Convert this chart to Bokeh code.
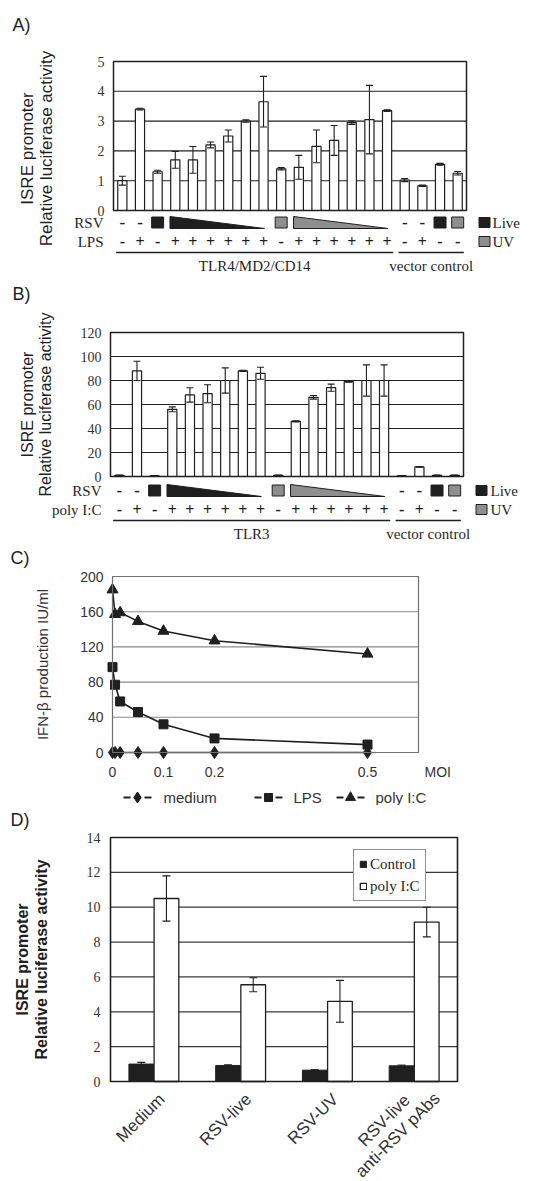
import math
from bokeh.plotting import figure
from bokeh.layouts import column
from bokeh.models import (ColumnDataSource, Whisker, TeeHead, Legend, LegendItem, Range1d)
from bokeh.core.properties import value
from bokeh.embed import file_html
from bokeh.resources import INLINE

# ---------------- data ----------------
# Panel A: ISRE promoter, TLR4/MD2/CD14 cells and vector control
a_values = [1.0, 3.4, 1.3, 1.7, 1.7, 2.2, 2.5, 3.0, 3.65, 1.4,
            1.45, 2.15, 2.35, 2.95, 3.05, 3.35, 1.02, 0.83, 1.55, 1.25]
a_errors = [0.15, 0.03, 0.05, 0.28, 0.45, 0.1, 0.2, 0.04, 0.85, 0.04,
            0.4, 0.55, 0.5, 0.06, 1.15, 0.03, 0.05, 0.02, 0.03, 0.06]
a_rsv = ["-", "-", "L", "l", "l", "l", "l", "l", "l", "U",
         "u", "u", "u", "u", "u", "u", "-", "-", "L", "U"]
a_lps = ["-", "+", "-", "+", "+", "+", "+", "+", "+", "-",
         "+", "+", "+", "+", "+", "+", "-", "+", "-", "-"]
a_groups = ["TLR4/MD2/CD14"] * 16 + ["vector control"] * 4
a_ticks = [0, 1, 2, 3, 4, 5]

# Panel B: ISRE promoter, TLR3 cells and vector control
b_values = [1.0, 88, 0.6, 56, 68, 69, 80, 88, 86, 1.0,
            46, 66, 74, 79, 80, 80, 0.6, 8, 1.0, 1.0]
b_errors = [0.3, 8, 0.2, 2, 6, 7.5, 10.5, 0.5, 5, 0.3,
            0.5, 1.5, 3, 0.5, 13, 13, 0.2, 0.3, 0.3, 0.3]
b_rsv = ["-", "-", "L", "l", "l", "l", "l", "l", "l", "U",
         "u", "u", "u", "u", "u", "u", "-", "-", "L", "U"]
b_polyic = ["-", "+", "-", "+", "+", "+", "+", "+", "+", "-",
            "+", "+", "+", "+", "+", "+", "-", "+", "-", "-"]
b_groups = ["TLR3"] * 16 + ["vector control"] * 4
b_ticks = [0, 20, 40, 60, 80, 100, 120]

# Panel C: IFN-beta production vs MOI
c_moi = [0, 0.005, 0.015, 0.05, 0.1, 0.2, 0.5]
c_medium = [0, 0, 0, 0, 0, 0, 0]
c_lps = [97, 77, 58, 46, 32, 16, 9]
c_polyic = [185, 157, 159, 149, 138, 127, 112]
c_xticks = [0, 0.1, 0.2, 0.5]
c_xlabels = ["0", "0.1", "0.2", "0.5"]
c_yticks = [0, 40, 80, 120, 160, 200]

# Panel D: ISRE promoter activity
d_categories = ["Medium", "RSV-live", "RSV-UV", "RSV-live\nanti-RSV pAbs"]
d_control = [1.0, 0.92, 0.65, 0.9]
d_control_err = [0.1, 0.04, 0.03, 0.04]
d_polyic = [10.5, 5.55, 4.6, 9.15]
d_polyic_err = [1.3, 0.4, 1.2, 0.85]
d_ticks = [0, 2, 4, 6, 8, 10, 12, 14]

# ---------------- helpers ----------------
SERIF = "Liberation Serif"
SANS = "Liberation Sans"
INK = "#1f1f1f"
DARK = "#333333"
GRAYFILL = "#8e8e8e"
PW = 551


def panel(fig_top, fig_h, box, xdom, ydom):
    """Figure whose frame is the whole canvas; box = plot rectangle in page px."""
    L, T, Wd, Ht = box
    x0, x1 = xdom
    y0, y1 = ydom

    def fx(px):
        return x0 + (px - L) / Wd * (x1 - x0)

    def fy(py):
        return y0 + (T + Ht - py) / Ht * (y1 - y0)

    p = figure(width=PW, height=fig_h,
               x_range=Range1d(fx(0), fx(PW)),
               y_range=Range1d(fy(fig_top + fig_h), fy(fig_top)),
               x_axis_location=None, y_axis_location=None, min_border=0,
               output_backend="svg", toolbar_location=None, title=None)
    p.outline_line_color = None
    p.grid.visible = False
    p.border_fill_color = "white"
    p.background_fill_color = "white"
    return p, fx, fy


def txt(p, xs, ys, texts, font=SANS, size=15, align="left", baseline="middle",
        angle=0.0, style="normal", color=INK):
    p.text(x=list(xs), y=list(ys), text=list(texts), text_font=value(font),
           text_font_size=f"{size}px", text_align=align, text_baseline=baseline,
           angle=angle, text_font_style=style, text_color=color)


def gridlines(p, xlo, xhi, ticks, grid_color, grid_width=1.1):
    p.segment(x0=[xlo] * len(ticks), x1=[xhi] * len(ticks), y0=ticks, y1=ticks,
              line_color=grid_color, line_width=grid_width)


def outline(p, xlo, xhi, ticks, color, width):
    p.quad(left=[xlo], right=[xhi], bottom=[ticks[0]], top=[ticks[-1]],
           fill_color=None, line_color=color, line_width=width)


def runs(seq):
    out = []
    start = 0
    for i in range(1, len(seq) + 1):
        if i == len(seq) or seq[i] != seq[start]:
            out.append((seq[start], start + 1, i))
            start = i
    return out


def bar_panel(fig_top, fig_h, box, values, errors, ticks, rsv, stim, stim_name, groups,
              letter, ylab_px, rows_px, label_right_px, legend_px):
    n = len(values)
    p, fx, fy = panel(fig_top, fig_h, box, (0.5, n + 0.5), (ticks[0], ticks[-1]))
    L = box[0]
    gridlines(p, 0.5, n + 0.5, ticks, INK)
    xs = list(range(1, n + 1))
    src = ColumnDataSource(dict(x=xs, top=values,
                                up=[v + e for v, e in zip(values, errors)],
                                lo=[max(v - e, 0) for v, e in zip(values, errors)]))
    p.vbar(x="x", top="top", bottom=ticks[0], width=0.52, fill_color="white",
           line_color=INK, line_width=1.2, source=src)
    p.add_layout(Whisker(source=src, base="x", upper="up", lower="lo", line_color=INK,
                         line_width=1.1, level="annotation",
                         upper_head=TeeHead(size=7, line_color=INK, line_width=1.1),
                         lower_head=TeeHead(size=7, line_color=INK, line_width=1.1)))
    outline(p, 0.5, n + 0.5, ticks, INK, 1.5)
    txt(p, [fx(L - 9)] * len(ticks), ticks, [str(t) for t in ticks], font=SERIF,
        size=14, align="right", color=DARK)

    y_rsv, y_stim, y_line, y_grp = rows_px
    txt(p, [fx(label_right_px)] * 2, [fy(y_rsv), fy(y_stim)], ["RSV", stim_name],
        font=SERIF, size=15, align="right")
    top_y, bot_y = fy(y_rsv - 6), fy(y_rsv + 6)
    for code, a, b in runs(rsv):
        if code == "-":
            idx = list(range(a, b + 1))
            txt(p, idx, [fy(y_rsv)] * len(idx), ["-"] * len(idx), font=SERIF, size=17,
                align="center", style="bold")
        elif code in ("L", "U"):
            for i in range(a, b + 1):
                p.rect(x=i, y=fy(y_rsv), width=12, height=11, width_units="screen",
                       height_units="screen", fill_color=INK if code == "L" else GRAYFILL,
                       line_color=INK, line_width=1)
        else:
            p.patch(x=[a - 0.3, a - 0.3, b + 0.05], y=[bot_y, top_y, bot_y],
                    fill_color=INK if code == "l" else GRAYFILL, line_color=INK,
                    line_width=1)
    txt(p, xs, [fy(y_stim)] * n, stim, font=SERIF, size=16, align="center", style="bold")
    for name, a, b in runs(groups):
        p.segment(x0=[a - 0.35], x1=[b + 0.35], y0=[fy(y_line)], y1=[fy(y_line)],
                  line_color=INK, line_width=1.6)
        txt(p, [(a + b) / 2], [fy(y_grp)], [name], font=SERIF, size=15, align="center")
    sq_px, txt_px = legend_px
    for yy, col, word in ((y_rsv, INK, "Live"), (y_stim, GRAYFILL, "UV")):
        p.rect(x=fx(sq_px), y=fy(yy), width=11, height=10, width_units="screen",
               height_units="screen", fill_color=col, line_color=INK)
        txt(p, [fx(txt_px)], [fy(yy)], [word], font=SERIF, size=15)
    lx1, lx2, ly, lsize = ylab_px
    txt(p, [fx(lx1), fx(lx2)], [fy(ly)] * 2,
        ["ISRE promoter", "Relative luciferase activity"], size=lsize, align="center",
        angle=math.pi / 2)
    txt(p, [fx(12)], [fy(letter[1])], [letter[0]], size=18)
    return p


# ---------------- panel A ----------------
pA = bar_panel(0, 283, (113, 61, 353, 149), a_values, a_errors, a_ticks, a_rsv, a_lps,
               "LPS", a_groups, ("A)", 24), (27, 46, 148, 17), (222, 241, 252, 265), 103,
               (484, 492))

# ---------------- panel B ----------------
pB = bar_panel(283, 265, (110, 332, 353, 144), b_values, b_errors, b_ticks, b_rsv,
               b_polyic, "poly I:C", b_groups, ("B)", 293), (27, 45, 404, 16),
               (490, 509, 520, 533), 101, (481, 490))

# ---------------- panel C ----------------
CL = 112
pC, cfx, cfy = panel(548, 257, (CL, 576, 306, 176), (0, 0.6), (0, 200))
gridlines(pC, 0, 0.6, c_yticks, "#8a8a8a")
c_series = [(c_medium, "diamond", 12, "medium"),
            (c_lps, "square", 9, "LPS"),
            (c_polyic, "triangle", 11, "poly I:C")]
for ys, mk, sz, name in c_series:
    pC.line(c_moi, ys, line_color=INK, line_width=1.6)
    pC.scatter(c_moi, ys, marker=mk, size=sz, fill_color=INK, line_color=INK)
outline(pC, 0, 0.6, c_yticks, "#707070", 1.2)
txt(pC, [cfx(CL - 9)] * len(c_yticks), c_yticks, [str(t) for t in c_yticks], size=14,
    align="right", color=DARK)
txt(pC, c_xticks, [cfy(771)] * len(c_xticks), c_xlabels, size=14, align="center",
    color=DARK)
txt(pC, [cfx(424)], [cfy(771)], ["MOI"], size=14, color=DARK)
txt(pC, [cfx(42)], [cfy(664)], ["IFN-\u03b2 production IU/ml"], size=15, align="center",
    angle=math.pi / 2, color=DARK)
txt(pC, [cfx(10)], [cfy(557)], ["C)"], size=18)
leg_pos = [(137, 163), (268, 293), (350, 375)]
for (ys, mk, sz, name), (cx, tx) in zip(c_series, leg_pos):
    yy = cfy(797)
    pC.segment(x0=[cfx(cx - 14), cfx(cx + 7)], x1=[cfx(cx - 7), cfx(cx + 14)],
               y0=[yy, yy], y1=[yy, yy], line_color=INK, line_width=2)
    pC.scatter([cfx(cx)], [yy], marker=mk, size=sz - 1, fill_color=INK, line_color=INK)
    txt(pC, [cfx(tx)], [yy], [name], size=15, color=DARK)

# ---------------- panel D ----------------
nd = len(d_categories)
DL, DT, DW, DH = 110, 837, 347, 244
pD, dfx, dfy = panel(805, 376, (DL, DT, DW, DH), (0, nd), (d_ticks[0], d_ticks[-1]))
gridlines(pD, 0, nd, d_ticks, "#3a3a3a", grid_width=1.2)
d_x = [i + 0.5 for i in range(nd)]
dsrc = ColumnDataSource(dict(
    xc=[x - 0.145 for x in d_x], xp=[x + 0.145 for x in d_x],
    ctrl=d_control, pic=d_polyic,
    ctrl_up=[v + e for v, e in zip(d_control, d_control_err)],
    ctrl_lo=[v - e for v, e in zip(d_control, d_control_err)],
    pic_up=[v + e for v, e in zip(d_polyic, d_polyic_err)],
    pic_lo=[v - e for v, e in zip(d_polyic, d_polyic_err)]))
r_ctrl = pD.vbar(x="xc", top="ctrl", bottom=0, width=0.285, fill_color=INK,
                 line_color=INK, source=dsrc)
r_pic = pD.vbar(x="xp", top="pic", bottom=0, width=0.285, fill_color="white",
                line_color=INK, line_width=1.3, source=dsrc)
for base, up, lo in (("xc", "ctrl_up", "ctrl_lo"), ("xp", "pic_up", "pic_lo")):
    pD.add_layout(Whisker(source=dsrc, base=base, upper=up, lower=lo, line_color=INK,
                          line_width=1.1, level="annotation",
                          upper_head=TeeHead(size=8, line_color=INK, line_width=1.1),
                          lower_head=TeeHead(size=8, line_color=INK, line_width=1.1)))
outline(pD, 0, nd, d_ticks, INK, 1.6)
txt(pD, [dfx(DL - 10)] * len(d_ticks), d_ticks, [str(t) for t in d_ticks], font=SERIF,
    size=14, align="right", color=DARK)
legD = Legend(items=[LegendItem(label="Control", renderers=[r_ctrl]),
                     LegendItem(label="poly I:C", renderers=[r_pic])],
              location=(353, 1181 - 901), margin=0, padding=5, spacing=4,
              glyph_width=8, glyph_height=8, label_height=18, label_standoff=3,
              label_text_font=SERIF, label_text_font_size="15px",
              label_text_color=INK, border_line_color=INK, border_line_width=1.5,
              background_fill_color="white", background_fill_alpha=1)
pD.add_layout(legD)
for i, cat in enumerate(d_categories):
    lines = cat.split("\n")
    cpx = DL + (i + 0.5) * DW / nd
    for k, line in enumerate(lines):
        shift = k - (len(lines) - 1) / 2
        txt(pD, [dfx(cpx + 8 + shift * 30)], [dfy(1096 - shift * 2)], [line], size=17,
            align="right", angle=math.pi / 4, color=DARK)
txt(pD, [dfx(22), dfx(41)], [dfy(959)] * 2,
    ["ISRE promoter", "Relative luciferase activity"], size=16, align="center",
    angle=math.pi / 2, style="bold")
txt(pD, [dfx(10)], [dfy(819)], ["D)"], size=18)

layout = column(pA, pB, pC, pD)
open("out.html", "w").write(file_html(layout, INLINE))
